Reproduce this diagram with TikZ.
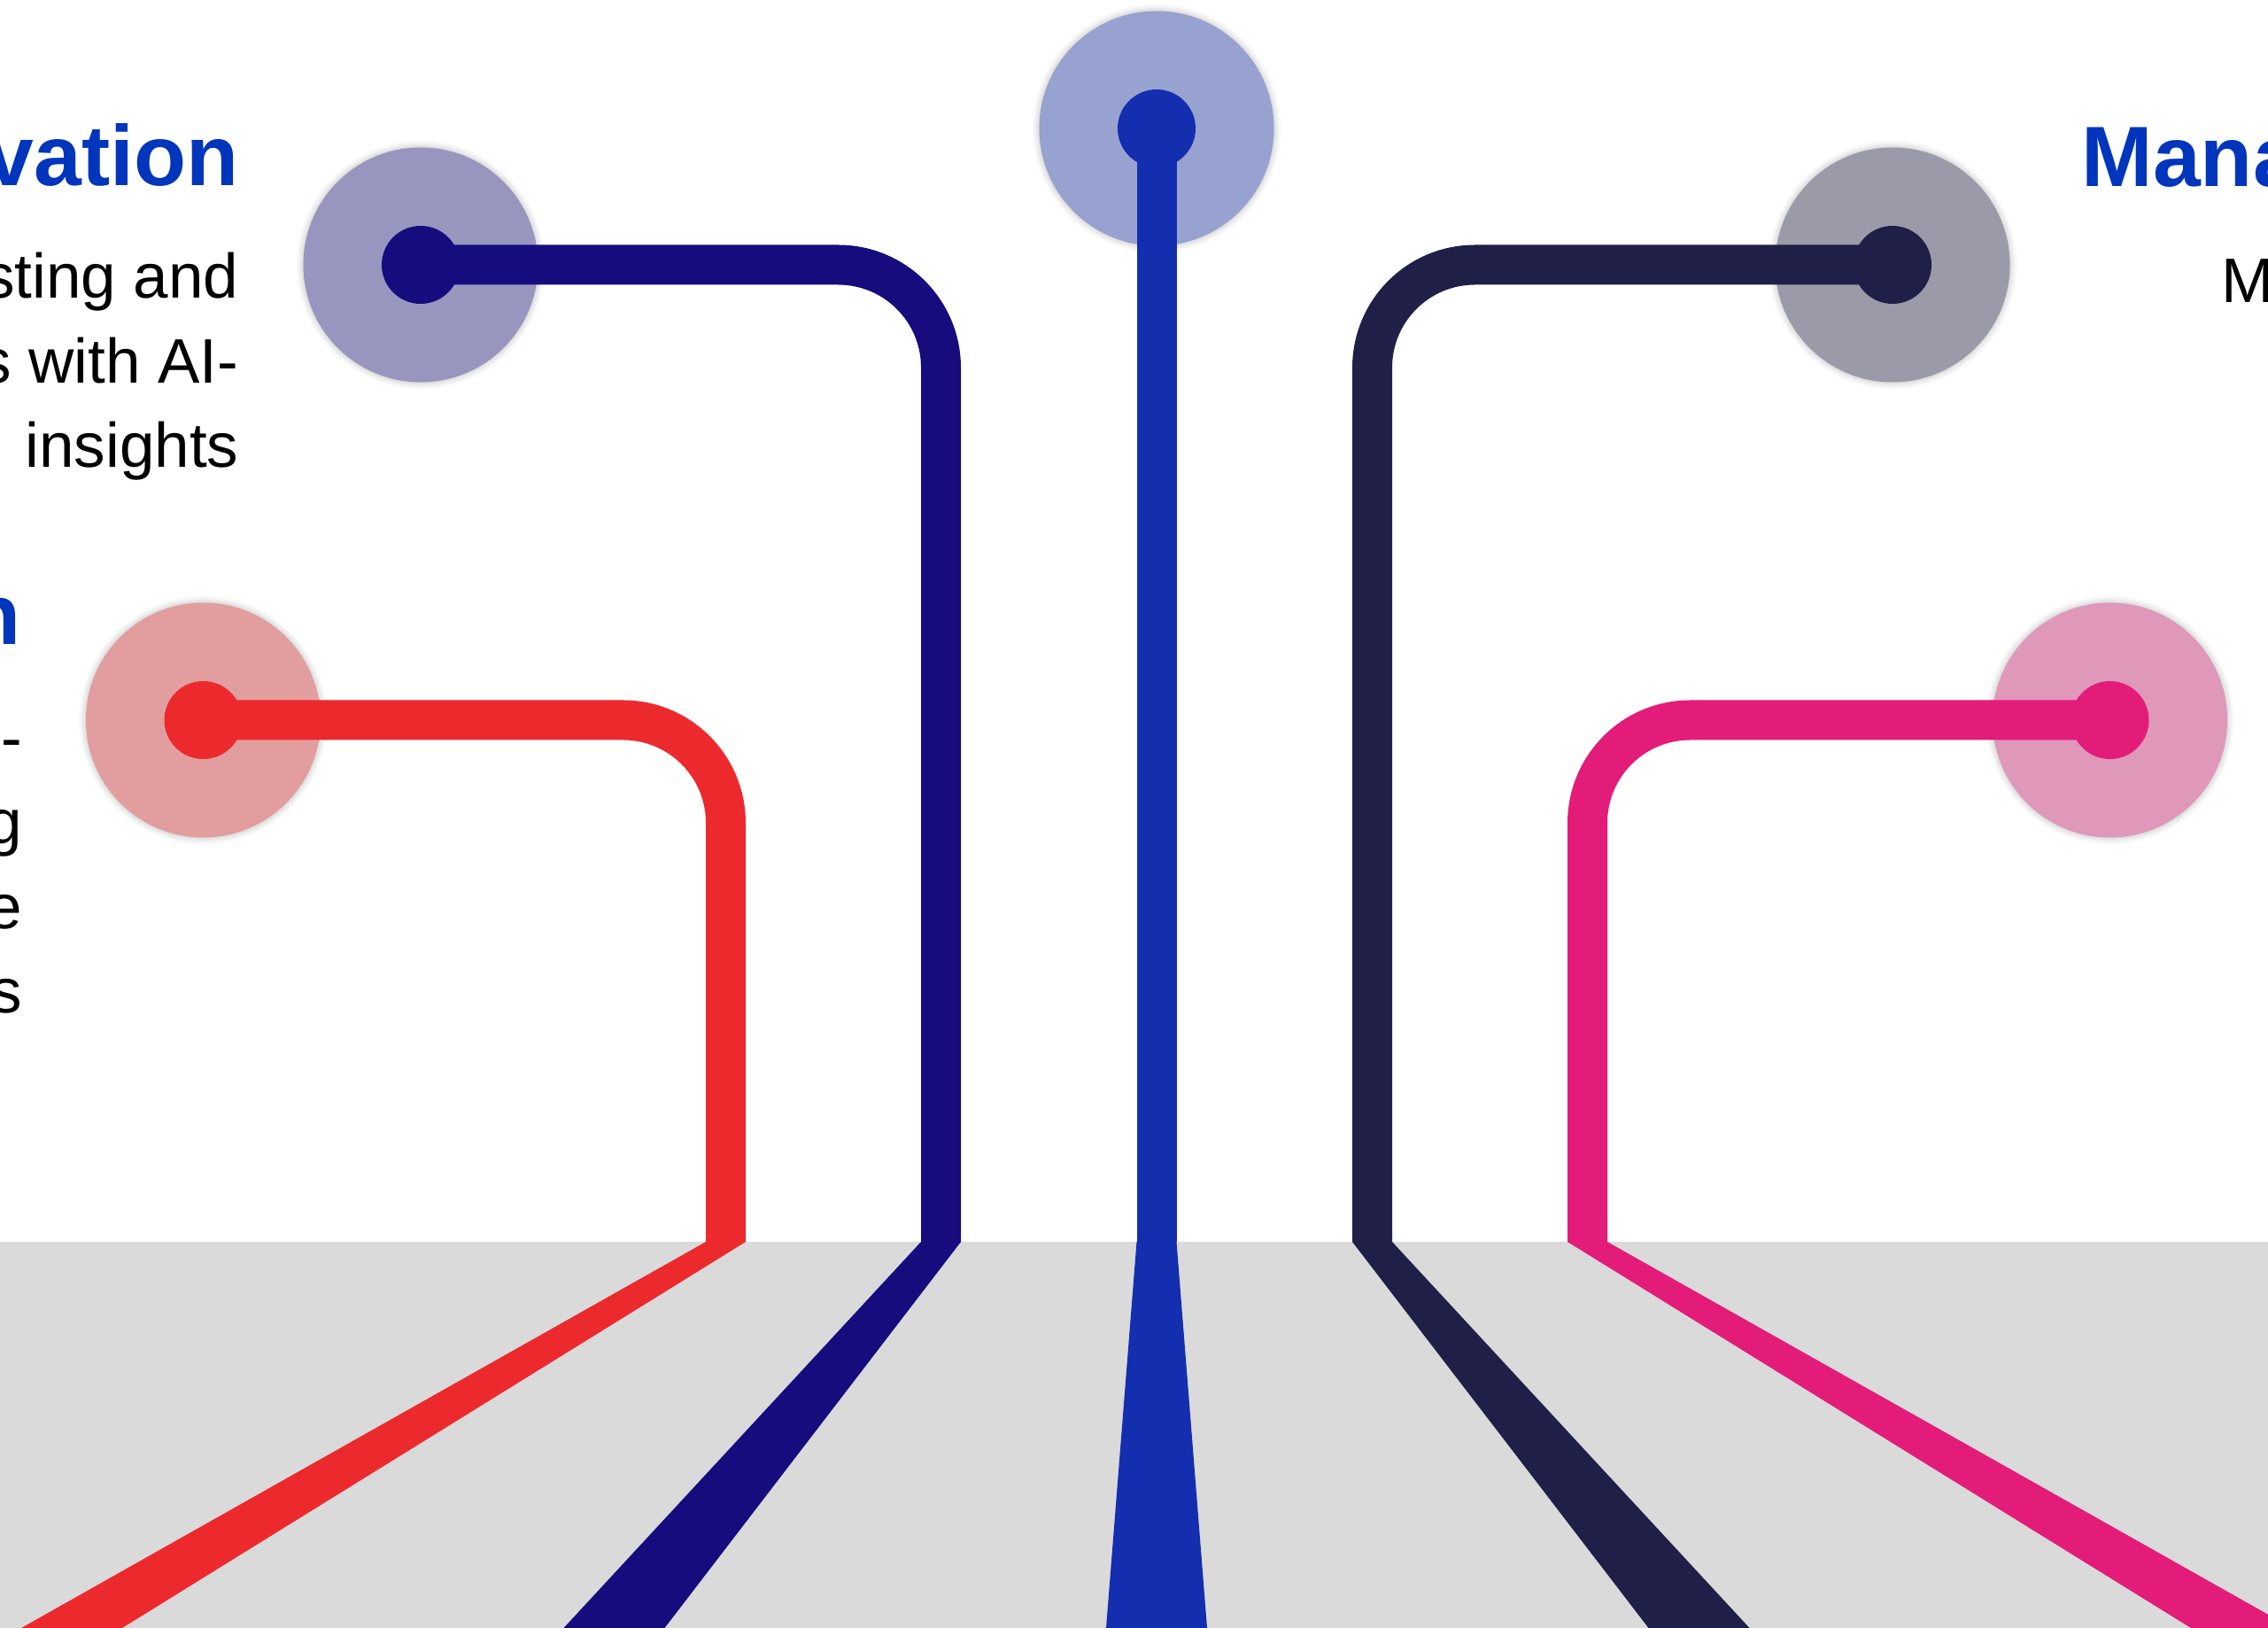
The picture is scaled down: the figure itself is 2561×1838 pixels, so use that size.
\documentclass[tikz,border=0pt]{standalone}
\usepackage{fontspec}
\setmainfont{Liberation Sans}
\usepackage{xcolor}
\usetikzlibrary{calc,shadows.blur}

\definecolor{cRed}{HTML}{EC2A2E}
\definecolor{hRed}{HTML}{E29E9F}
\definecolor{cNavy}{HTML}{160C7E}
\definecolor{hNavy}{HTML}{9896BF}
\definecolor{cBlue}{HTML}{142EB0}
\definecolor{hBlue}{HTML}{98A2D0}
\definecolor{cDark}{HTML}{1F1F48}
\definecolor{hDark}{HTML}{9B9AA8}
\definecolor{cPink}{HTML}{E31C79}
\definecolor{hPink}{HTML}{DF97BA}
\definecolor{ground}{HTML}{DADADA}
\definecolor{headblue}{HTML}{0035BC}

\begin{document}
\begin{tikzpicture}[
  x=0.1mm, y=-0.1mm,
  halo/.style={circle, inner sep=0pt, minimum size=26.5mm,
    blur shadow={shadow xshift=0pt, shadow yshift=0pt, shadow blur radius=0.8mm, shadow opacity=30}},
  dot/.style={circle, inner sep=0pt, minimum size=8.8mm},
  wire/.style={line width=4.5mm, rounded corners=11.6mm},
  head/.style={inner sep=0pt, text=headblue, font=\bfseries\fontsize{27.5pt}{33pt}\selectfont},
  body/.style={inner sep=0pt, font=\fontsize{20.2pt}{27.2pt}\selectfont}
]
\useasboundingbox (0,0) rectangle (2561,1838);
\clip (0,0) rectangle (2561,1838);

% ground
\fill[ground] (0,1402) rectangle (2561,1838);

% where the lines meet the ground, and where they leave the picture
\coordinate (redfoot)  at (819.5,1402);
\coordinate (navyfoot) at (1062.5,1402);
\coordinate (bluefoot) at (1306,1402);
\coordinate (darkfoot) at (1549.5,1402);
\coordinate (pinkfoot) at (1792.5,1402);
\coordinate (redbase)  at (81,1838);
\coordinate (navybase) at (693.5,1838);
\coordinate (bluebase) at (1306,1838);
\coordinate (darkbase) at (1918.5,1838);
\coordinate (pinkbase) at (2531,1838);

\foreach \c/\f/\b in {cRed/redfoot/redbase, cNavy/navyfoot/navybase, cBlue/bluefoot/bluebase,
                      cDark/darkfoot/darkbase, cPink/pinkfoot/pinkbase}
  \fill[\c] ($(\f)+(-22.5,0)$) -- ($(\f)+(22.5,0)$) -- ($(\b)+(57,0)$) -- ($(\b)+(-57,0)$) -- cycle;

% halos
\node[halo, fill=hRed]  (red)  at (229.5,813) {};
\node[halo, fill=hNavy] (navy) at (475,299) {};
\node[halo, fill=hBlue] (blue) at (1306,145) {};
\node[halo, fill=hDark] (dark) at (2137,299) {};
\node[halo, fill=hPink] (pink) at (2382.5,813) {};

% lines
\draw[wire, cRed]  (red.center)  -| (redfoot);
\draw[wire, cNavy] (navy.center) -| (navyfoot);
\draw[wire, cBlue] (blue.center) -- (bluefoot);
\draw[wire, cDark] (dark.center) -| (darkfoot);
\draw[wire, cPink] (pink.center) -| (pinkfoot);

% dots
\node[dot, fill=cRed]  (redDot)  at (red.center) {};
\node[dot, fill=cNavy] (navyDot) at (navy.center) {};
\node[dot, fill=cBlue] (blueDot) at (blue.center) {};
\node[dot, fill=cDark] (darkDot) at (dark.center) {};
\node[dot, fill=cPink] (pinkDot) at (pink.center) {};

% texts
\node[head, anchor=base east] (innovHead) at (270,210) {vation};
\node[body, anchor=base east] (innovA) at (270,337) {sting and};
\node[body, anchor=base east] (innovB) at (270,433) {s with AI-};
\node[body, anchor=base east] (innovC) at (270,528) {insights};
\node[head, anchor=base east] (lowHead) at (24,728) {n};
\node[body, anchor=base east] (lowA) at (26,858) {-};
\node[body, anchor=base east] (lowB) at (26,953) {g};
\node[body, anchor=base east] (lowC) at (26,1048) {e};
\node[body, anchor=base east] (lowD) at (26,1143) {s};
\node[head, anchor=base west] (manaHead) at (2350,211) {Mana};
\node[body, anchor=base west] (manaText) at (2508,342) {M};
\end{tikzpicture}
\end{document}
